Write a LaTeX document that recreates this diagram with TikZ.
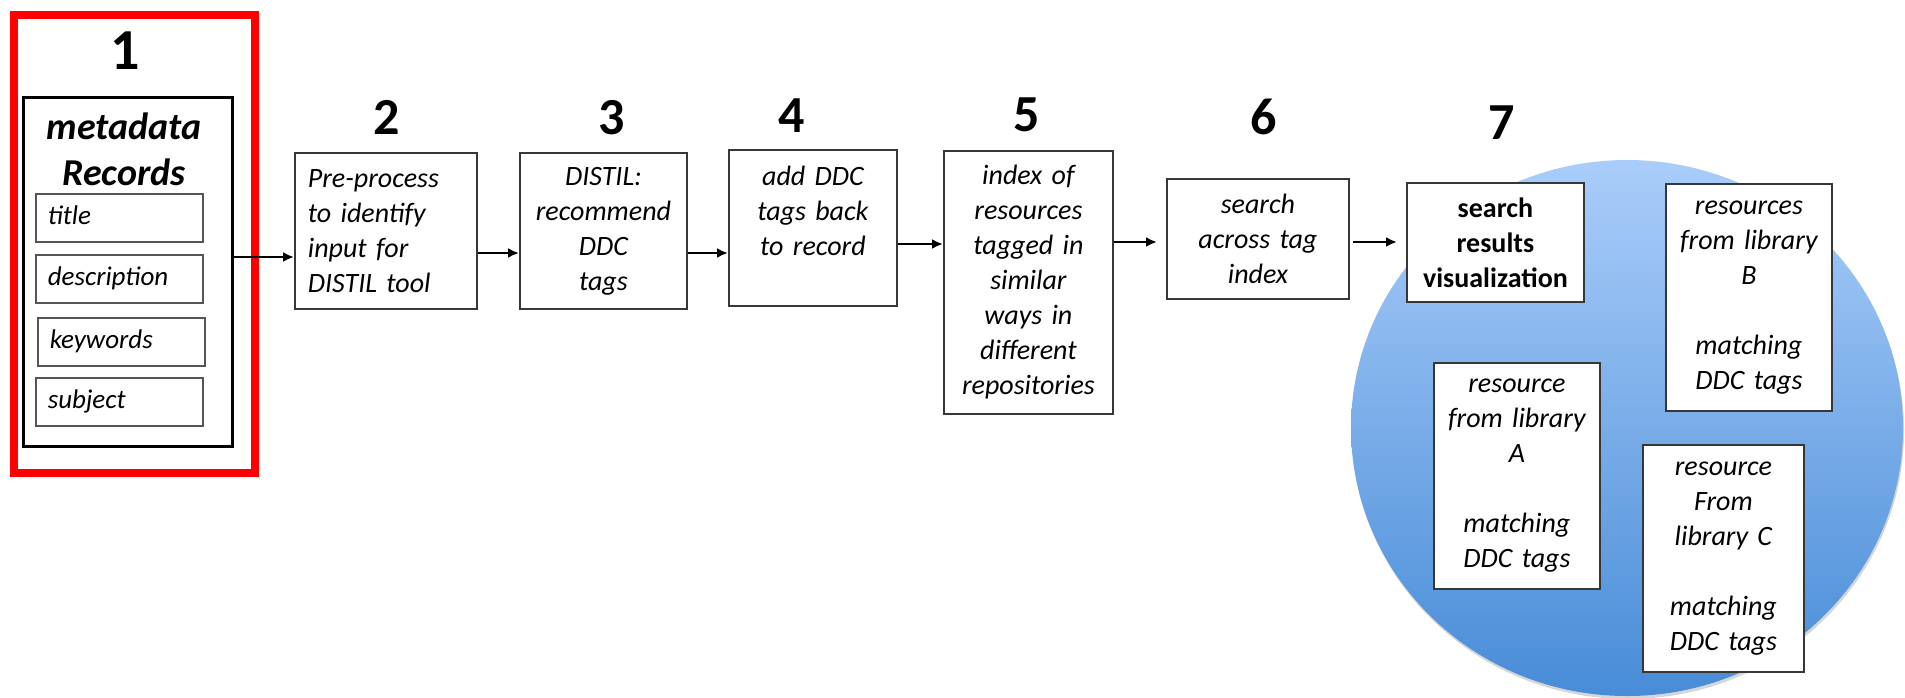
\documentclass[tikz,border=0pt]{standalone}
\usepackage{fontspec}
\setmainfont{Carlito}
\usetikzlibrary{arrows.meta}
\definecolor{circtop}{RGB}{170,205,250}
\definecolor{circbot}{RGB}{72,140,215}
\definecolor{edge}{RGB}{55,55,55}

\begin{document}
\begin{tikzpicture}[x=1pt,y=-1pt,
  stage/.style={draw=edge, line width=1.8pt, fill=white, inner sep=0pt,
    anchor=north west, align=center, font=\itshape\fontsize{28}{35}\selectfont},
  field/.style={draw=edge!85, line width=1.5pt, fill=white, inner sep=0pt,
    anchor=north west, align=left, minimum height=48pt,
    font=\itshape\fontsize{27}{33}\selectfont},
  stepnum/.style={font=\bfseries\fontsize{52}{60}\selectfont, inner sep=0pt},
  flow/.style={line width=2.5pt, -{Latex[length=11pt,width=10pt]}},
]
\useasboundingbox (0,0) rectangle (1905,697);

% results cloud behind step 7
\fill[black!40, opacity=0.4] (1628,431) ellipse (276 and 268);
\shade[top color=circtop, bottom color=circbot] (1627,428) ellipse (276 and 268);

% step 1: metadata records
\node[draw=red, line width=8pt, minimum width=241pt, minimum height=458pt,
      anchor=north west, inner sep=0pt] (frame) at (10,11) {};
\node[stepnum, font=\bfseries\fontsize{58}{66}\selectfont] (n1) at (125,51) {1};
\node[draw=black, line width=2.6pt, fill=white, minimum width=209pt, minimum height=349pt,
      anchor=north west, inner sep=0pt] (b1) at (22,96) {};
\node[font=\bfseries\itshape\fontsize{38}{46}\selectfont, align=center] (rec) at (124,149)
      {metadata\\Records};
\node[field, minimum width=167pt, text width=143pt] (f1) at (35,193) {\strut title};
\node[field, minimum width=167pt, text width=143pt] (f2) at (35,254) {\strut description};
\node[field, minimum width=167pt, text width=143pt] (f3) at (37,317) {\strut keywords};
\node[field, minimum width=167pt, text width=143pt] (f4) at (35,377) {\strut subject};

% steps 2 to 6
\node[stepnum] (n2) at (387,117) {2};
\node[stage, minimum width=182pt, minimum height=156pt, text width=156pt, align=left] (b2)
      at (294,152) {Pre-process\\to identify\\input for\\DISTIL tool};
\node[stepnum] (n3) at (612,118) {3};
\node[stage, minimum width=167pt, minimum height=156pt, text width=160pt] (b3)
      at (519,152) {DISTIL:\\recommend\\DDC\\tags};
\node[stepnum] (n4) at (792,116) {4};
\node[stage, minimum width=168pt, minimum height=156pt, text width=160pt] (b4)
      at (728,149) {add DDC\\tags back\\to record\\\mbox{}};
\node[stepnum] (n5) at (1027,115) {5};
\node[stage, minimum width=169pt, minimum height=263pt, text width=165pt] (b5)
      at (943,150) {index of\\resources\\tagged in\\similar\\ways in\\different\\repositories};
\node[stepnum] (n6) at (1264,117) {6};
\node[stage, minimum width=182pt, minimum height=120pt, text width=170pt] (b6)
      at (1166,178) {search\\across tag\\index};

% step 7: visualization of results
\node[stepnum] (n7) at (1502,123) {7};
\node[stage, minimum width=177pt, minimum height=119pt, text width=170pt,
      font=\bfseries\fontsize{28}{35}\selectfont] (b7)
      at (1406,182) {search\\results\\visualization};
\node[stage, minimum width=166pt, minimum height=226pt, text width=160pt] (ra)
      at (1433,362) {resource\\from library\\A\\\mbox{}\\matching\\DDC tags};
\node[stage, minimum width=166pt, minimum height=227pt, text width=160pt] (rb)
      at (1665,183) {resources\\from library\\B\\\mbox{}\\matching\\DDC tags};
\node[stage, minimum width=161pt, minimum height=227pt, text width=155pt] (rc)
      at (1642,444) {resource\\From\\library C\\\mbox{}\\matching\\DDC tags};

% flow between the steps
\coordinate (y12) at (0,257);
\coordinate (y23) at (0,253);
\coordinate (y45) at (0,244);
\coordinate (y56) at (0,242);
\draw[flow] (b1.east |- y12) -- (b2.west |- y12);
\draw[flow] (b2.east |- y23) -- (b3.west |- y23);
\draw[flow] (b3.east |- y23) -- (b4.west |- y23);
\draw[flow] (b4.east |- y45) -- (b5.west |- y45);
\draw[flow, shorten >=9pt] (b5.east |- y56) -- (b6.west |- y56);
\draw[flow, shorten <=3pt, shorten >=9pt] (b6.east |- y56) -- (b7.west |- y56);
\end{tikzpicture}
\end{document}
